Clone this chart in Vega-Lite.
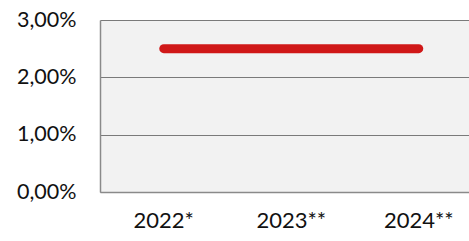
{
  "$schema": "https://vega.github.io/schema/vega-lite/v6.json",
  "autosize": "none",
  "width": 369,
  "height": 172,
  "padding": {"left": 100, "top": 20, "right": 0, "bottom": 49},
  "background": "white",
  "data": {"values": [
    {"year": "2022*", "value": 0.025},
    {"year": "2023**", "value": 0.025},
    {"year": "2024**", "value": 0.025}
  ]},
  "mark": {"type": "line", "color": "#d01818", "strokeWidth": 9, "strokeCap": "round"},
  "encoding": {
    "x": {"field": "year", "type": "ordinal", "sort": null,
      "scale": {"type": "band", "range": [0, 382.5], "paddingInner": 0, "paddingOuter": 0},
      "axis": {"title": null, "ticks": false, "grid": false, "labelAngle": 0, "labelPadding": 18,
        "labelFontSize": 22, "labelFont": "Lato", "labelColor": "#111",
        "domainColor": "#8a8a8a", "domainWidth": 1.5}},
    "y": {"field": "value", "type": "quantitative",
      "scale": {"domain": [0, 0.03]},
      "axis": {"title": null, "values": [0, 0.01, 0.02, 0.03], "ticks": false,
        "labelExpr": "replace(format(datum.value, '.2%'), '.', ',')",
        "labelPadding": 24, "labelFontSize": 21.5, "labelFont": "Lato", "labelColor": "#111",
        "domainColor": "#8a8a8a", "domainWidth": 1.5,
        "gridColor": "#7a7a7a", "gridWidth": 1.2}}
  },
  "config": {"view": {"fill": "#f2f2f2", "stroke": null}}
}
